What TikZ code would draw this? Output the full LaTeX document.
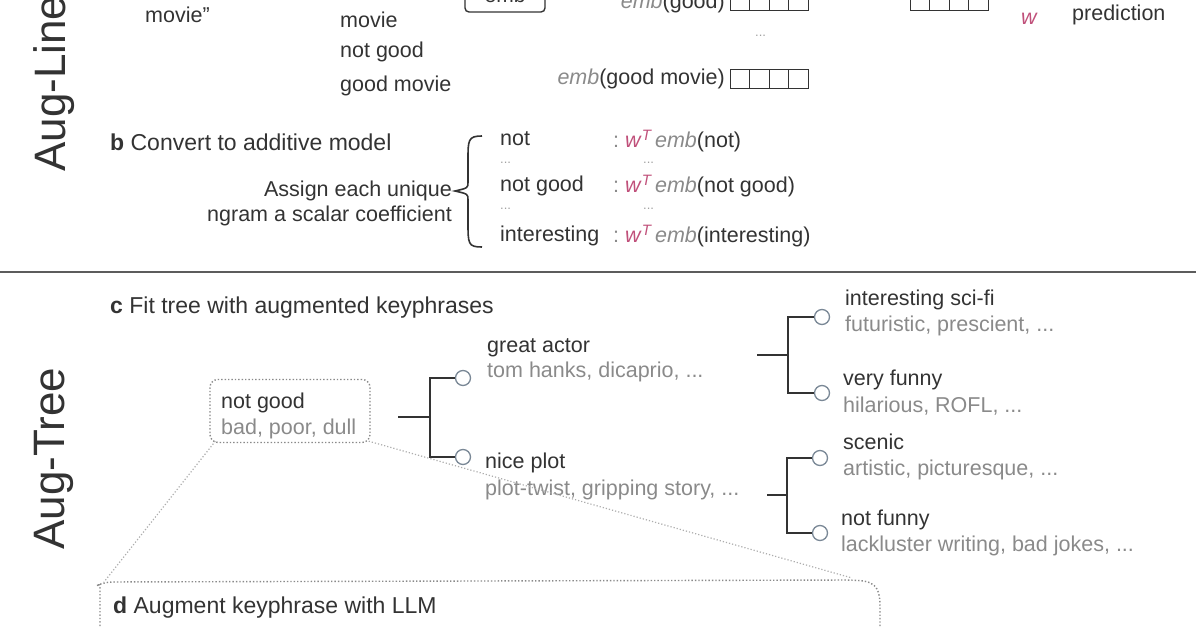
\documentclass[tikz,border=0pt]{standalone}
\usepackage{fontspec}
\setmainfont{Liberation Sans}
\begin{document}
\begin{tikzpicture}[x=1pt,y=-1pt,
  txt/.style={anchor=west,inner sep=0pt,text=dk,font=\fontsize{21.5}{25}\selectfont},
  sub/.style={txt,text=lg},
  dots/.style={anchor=west,inner sep=0pt,text=lg!80,font=\fontsize{13}{14}\selectfont},
  big/.style={anchor=west,inner sep=0pt,text=dk,rotate=90,font=\fontsize{44}{48}\selectfont},
  head/.style={txt,font=\fontsize{23}{26}\selectfont},
  circ/.style={circle,draw=cb,line width=1.3pt,minimum size=15pt,inner sep=0pt,fill=white},
  br/.style={draw=dk,line width=2.2pt},
  vec/.style={draw=dk,line width=1.4pt,minimum width=19.5pt,minimum height=19pt,inner sep=0pt},
  dotbox/.style={draw=lg,dotted,line width=1.4pt,rounded corners=8pt},
  guide/.style={draw=lg!70,dotted,line width=1.2pt}]
\definecolor{dk}{HTML}{333333}
\definecolor{lg}{HTML}{8A8A8A}
\definecolor{pk}{HTML}{C0507A}
\definecolor{cb}{HTML}{7A8896}
\useasboundingbox (0,0) rectangle (1196,628);
\clip (0,0) rectangle (1196,628);
\newcommand{\emb}{\textit{\color{lg}emb}}
\newcommand{\wt}{{\color{pk}\textit{w}\textsuperscript{\itshape T}}}
% Aug-Linear
\node[big] (augl) at (54,172) {Aug-Linear};
\node[txt] (mq) at (145,15) {movie"};
\node[txt] (g1) at (340,20) {movie};
\node[txt] (g2) at (340,52) {not good};
\node[txt] (g3) at (340,86) {good movie};
\node[draw=dk,line width=1.4pt,rounded corners=4pt,minimum width=80pt,minimum height=34pt,inner sep=0pt,text=dk,font=\fontsize{21}{24}\selectfont] (embbox) at (505,-5) {emb};
\foreach \i in {0,1,2,3}{
  \node[vec] (a\i) at (740+\i*19.5,1) {};
  \node[vec] (b\i) at (740+\i*19.5,79) {};
  \node[vec] (c\i) at (920+\i*19.5,1) {};
}
\node[txt,anchor=east] (eg) at (725,3) {\emb(good)};
\node[txt,anchor=east] (egm) at (725,79) {\emb(good movie)};
\node[dots] (d1) at (755,36) {...};
\node[txt,text=pk] (w) at (1021,19) {\textit{w}};
\node[txt] (pred) at (1072,15) {prediction};
% b
\node[head] (bt) at (110,142) {\textbf{b} Convert to additive model};
\node[txt,anchor=east,align=right] (assign) at (452,203) {Assign each unique\\ngram a scalar coefficient};
\coordinate (brt) at (482,136);
\coordinate (brb) at (482,247);
\draw[dk,line width=1.6pt] (brt) .. controls (468,136) and (468,140) .. (468,160) -- (468,182) .. controls (468,188) .. (455,191) .. controls (468,194) .. (468,200) -- (468,222) .. controls (468,244) and (468,247) .. (brb);
\node[txt] (n1) at (500,139) {not};
\node[dots] (n2) at (500,163) {...};
\node[txt] (n3) at (500,186) {not good};
\node[dots] (n4) at (500,209) {...};
\node[txt] (n5) at (500,236) {interesting};
\node[txt] (m1) at (613,141) {{\color{lg}:}\ \wt\,\emb(not)};
\node[dots] (m2) at (643,163) {...};
\node[txt] (m3) at (613,186) {{\color{lg}:}\ \wt\,\emb(not good)};
\node[dots] (m4) at (643,209) {...};
\node[txt] (m5) at (613,236) {{\color{lg}:}\ \wt\,\emb(interesting)};
% separator
\coordinate (sl) at (0,272);
\coordinate (sr) at (1196,272);
\draw[dk!80,line width=2.8pt] (sl) -- (sr);
% Aug-Tree
\node[big] (augt) at (54,550) {Aug-Tree};
\node[head] (ct) at (110,308) {\textbf{c} Fit tree with augmented keyphrases};
\node[dotbox,minimum width=160pt,minimum height=63pt] (root) at (290,411) {};
\node[txt] (r1) at (221,403) {not good};
\node[sub] (r2) at (221,429) {bad, poor, dull};
% tree 1
\coordinate (t1a) at (398,417);
\coordinate (t1b) at (430,417);
\node[circ] (ga) at (463,378) {};
\node[circ] (np) at (463,457) {};
\draw[br] (t1a) -- (t1b);
\draw[br] (ga.west) -| (t1b) |- (np.west);
\node[txt] (gat) at (487,348) {great actor};
\node[sub] (gas) at (487,372) {tom hanks, dicaprio, ...};
\node[txt] (npt) at (485,463) {nice plot};
\node[sub] (nps) at (485,490) {plot-twist, gripping story, ...};
% tree 2
\coordinate (t2a) at (757,355);
\coordinate (t2b) at (788,355);
\node[circ] (is) at (822,317) {};
\node[circ] (vf) at (822,393) {};
\draw[br] (t2a) -- (t2b);
\draw[br] (is.west) -| (t2b) |- (vf.west);
\node[txt] (ist) at (845,300) {interesting sci-fi};
\node[sub] (iss) at (845,326) {futuristic, prescient, ...};
\node[txt] (vft) at (843,380) {very funny};
\node[sub] (vfs) at (843,406) {hilarious, ROFL, ...};
% tree 3
\coordinate (t3a) at (767,495);
\coordinate (t3b) at (787,495);
\node[circ] (sc) at (820,458) {};
\node[circ] (nf) at (820,533) {};
\draw[br] (t3a) -- (t3b);
\draw[br] (sc.west) -| (t3b) |- (nf.west);
\node[txt] (sct) at (843,442) {scenic};
\node[sub] (scs) at (843,470) {artistic, picturesque, ...};
\node[txt] (nft) at (841,520) {not funny};
\node[sub] (nfs) at (841,546) {lackluster writing, bad jokes, ...};
% d box
\coordinate (dtl) at (104,582);
\coordinate (dtr) at (852,578);
\draw[dotbox] (100,660) -- (100,598) .. controls (100,584) .. (dtl) -- (852,580) .. controls (878,582) and (880,592) .. (880,615) -- (880,660);
\draw[guide] (root.south west) ++(6,-2) -- (dtl);
\draw[guide] (root.south east) ++(-2,-2) -- (dtr);
\node[head] (dt) at (113,608) {\textbf{d} Augment keyphrase with LLM};
\end{tikzpicture}
\end{document}
